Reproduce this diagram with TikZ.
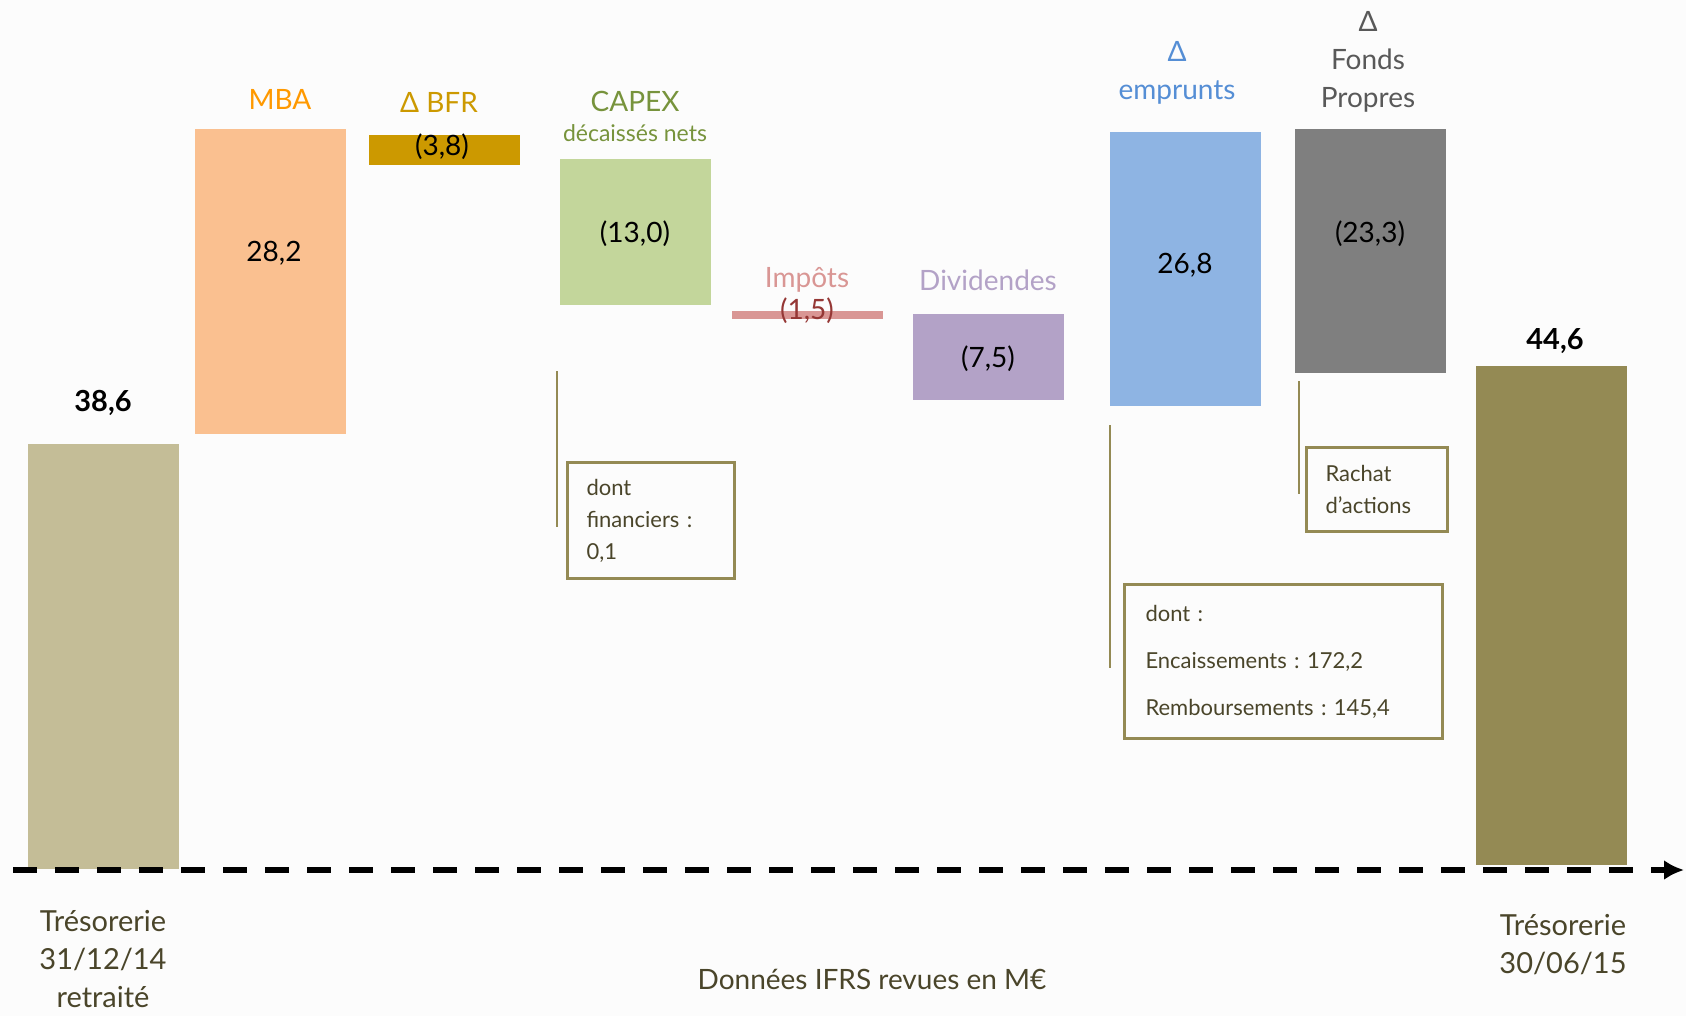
\documentclass[tikz,border=0pt]{standalone}
\usepackage{fontspec}
\setmainfont{Lato}
\frenchspacing
\usetikzlibrary{arrows.meta}
\definecolor{tresA}{HTML}{C4BD97}
\definecolor{mbaBar}{HTML}{FAC090}
\definecolor{mbaText}{HTML}{FF9900}
\definecolor{bfr}{HTML}{CC9900}
\definecolor{capexBar}{HTML}{C3D69B}
\definecolor{capexText}{HTML}{77933C}
\definecolor{impots}{HTML}{D99694}
\definecolor{impotsVal}{HTML}{953735}
\definecolor{divid}{HTML}{B3A2C7}
\definecolor{empBar}{HTML}{8EB4E3}
\definecolor{empText}{HTML}{558ED5}
\definecolor{fpBar}{HTML}{7F7F7F}
\definecolor{fpText}{HTML}{595959}
\definecolor{tresB}{HTML}{948A54}
\definecolor{darktext}{HTML}{4A452A}
\definecolor{bg}{HTML}{FCFCFC}

\begin{document}
\begin{tikzpicture}[x=1pt, y=-1pt,
    bar/.style={minimum width=151pt, inner sep=0pt, anchor=north west},
    val/.style={font=\fontsize{28}{34}\selectfont},
    valbold/.style={font=\bfseries\fontsize{29}{34}\selectfont},
    cat/.style={font=\fontsize{28}{38}\selectfont, align=center},
    note/.style={draw=tresB, line width=3pt, anchor=north west, align=left,
      inner ysep=0pt, font=\fontsize{22}{32}\selectfont, text=darktext},
    lead/.style={draw=tresB, line width=2pt},
    axis/.style={line width=6pt, dash pattern=on 24pt off 18pt,
      -{Latex[length=20pt,width=20pt]}}]
  \useasboundingbox (0,0) rectangle (1686,1016);
  \fill[bg] (0,0) rectangle (1686,1016);
  % bars
  \foreach \x/\t/\b/\c [count=\n] in {28/444/869/tresA, 195/129/434/mbaBar,
      369/135/165/bfr, 560/159/305/capexBar, 732/311/319/impots,
      913/314/400/divid, 1110/132/406/empBar, 1295/129/373/fpBar,
      1476/366/865/tresB} {
    \pgfmathsetmacro{\h}{\b-\t}
    \node[bar, fill=\c, minimum height=\h pt] (bar\n) at (\x,\t) {};
  }
  % value labels
  \node[valbold] (v1) at (103,403) {38,6};
  \node[val] (v2) at (274,253) {28,2};
  \node[val] (v3) at (442,147) {(3,8)};
  \node[val] (v4) at (635,234) {(13,0)};
  \node[val, text=impotsVal] (v5) at (807,311) {(1,5)};
  \node[val] (v6) at (988,359) {(7,5)};
  \node[val] (v7) at (1185,265) {26,8};
  \node[val] (v8) at (1370,234) {(23,3)};
  \node[valbold] (v9) at (1555,341) {44,6};
  % category labels
  \node[cat, text=mbaText] (mba) at (280,99) {MBA};
  \node[cat, text=bfr] (bfr) at (439,102) {Δ BFR};
  \node[cat, text=capexText] (capex) at (635,101) {CAPEX};
  \node[cat, text=capexText, font=\fontsize{23}{28}\selectfont] (capex2) at (635,133) {décaissés nets};
  \node[cat, text=impots] (imp) at (807,280) {Impôts};
  \node[cat, text=divid] (div) at (988,280) {Dividendes};
  \node[cat, text=empText] (emp) at (1177,73) {Δ\\emprunts};
  \node[cat, text=fpText] (fp) at (1368,62) {Δ\\Fonds\\Propres};
  % axis
  \coordinate (axisL) at (13,870);
  \coordinate (axisR) at (1684,870);
  \draw[axis] (axisL) -- (axisR);
  \node[cat, text=darktext, font=\fontsize{29}{38}\selectfont] (tres1) at (103,959) {Trésorerie\\31/12/14\\retraité};
  \node[cat, text=darktext, font=\fontsize{29}{38}\selectfont] (tres2) at (1563,945) {Trésorerie\\30/06/15};
  \node[cat, text=darktext] (src) at (872,979) {Données IFRS revues en M€};
  % notes
  \coordinate (l1a) at (557,371); \coordinate (l1b) at (557,527);
  \draw[lead] (l1a) -- (l1b);
  \node[note, minimum width=167pt, minimum height=116pt, text width=129pt,
    inner xsep=19pt] (n1) at (566,461) {dont\\financiers :\\0,1};
  \coordinate (l2a) at (1110,425); \coordinate (l2b) at (1110,668);
  \draw[lead] (l2a) -- (l2b);
  \node[note, minimum width=318pt, minimum height=154pt, text width=276pt,
    inner xsep=21pt, font=\fontsize{22}{47}\selectfont] (n2) at (1123,583)
    {dont :\\Encaissements : 172,2\\Remboursements : 145,4};
  \coordinate (l3a) at (1299,381); \coordinate (l3b) at (1299,494);
  \draw[lead] (l3a) -- (l3b);
  \node[note, minimum width=141pt, minimum height=84pt, text width=103pt,
    inner xsep=19pt] (n3) at (1305,446) {Rachat\\d’actions};
\end{tikzpicture}
\end{document}
